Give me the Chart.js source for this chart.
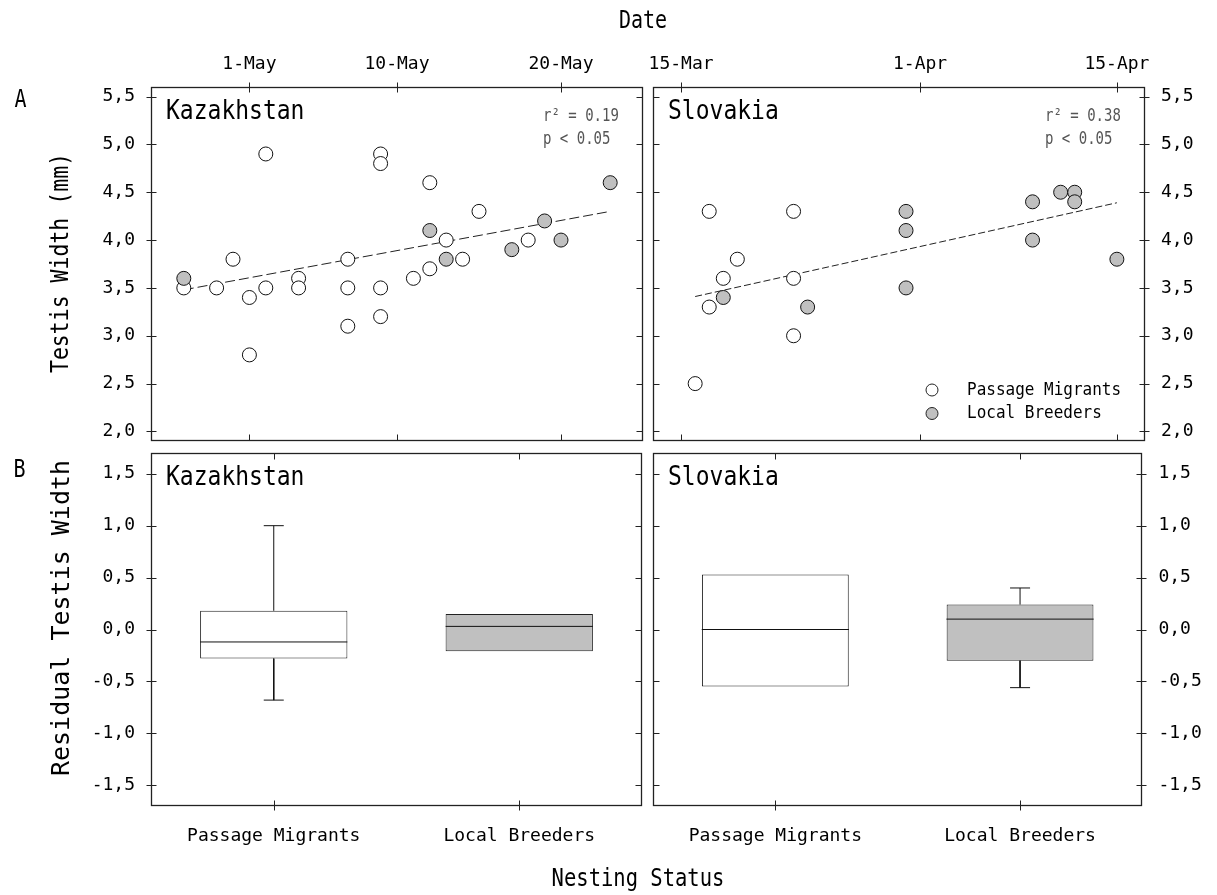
<!DOCTYPE html>
<html>
<head>
<meta charset="utf-8">
<script src="https://cdn.jsdelivr.net/npm/chart.js@4.4.1/dist/chart.umd.min.js"></script>
<style>
  html, body { margin: 0; padding: 0; background: #fff; }
  #page { position: relative; width: 1217px; height: 895px; }
  #page canvas { position: absolute; left: 0; top: 0; }
</style>
</head>
<body>
<div id="page">
  <canvas id="kzDate" width="1217" height="895"></canvas>
  <canvas id="skDate" width="1217" height="895"></canvas>
  <canvas id="kzBox" width="1217" height="895"></canvas>
  <canvas id="skBox" width="1217" height="895"></canvas>
</div>
<script>
// ---- data ----
// Kazakhstan: x = day of May (0 = 30-Apr)
var kzDateTicks = [1, 10, 20];
var kzDateLabels = ['1-May', '10-May', '20-May'];
var kzPassageDay = [-3, -1, 0, 1, 1, 2, 2, 4, 4, 7, 7, 7, 9, 9, 9, 9, 11, 12, 12, 13, 14, 15, 18];
var kzPassageWidth = [3.5, 3.5, 3.8, 3.4, 2.8, 4.9, 3.5, 3.6, 3.5, 3.8, 3.5, 3.1, 4.9, 4.8, 3.5, 3.2, 3.6, 4.6, 3.7, 4.0, 3.8, 4.3, 4.0];
var kzLocalDay = [-3, 12, 13, 17, 19, 20, 23];
var kzLocalWidth = [3.6, 4.1, 3.8, 3.9, 4.2, 4.0, 4.6];
var kzTrendDay = [-3, 23];
var kzTrendWidth = [3.48, 4.30];

// Slovakia: x = day of March (32 = 1-Apr)
var skDateTicks = [15, 32, 46];
var skDateLabels = ['15-Mar', '1-Apr', '15-Apr'];
var skPassageDay = [16, 17, 17, 18, 19, 23, 23, 23];
var skPassageWidth = [2.5, 4.3, 3.3, 3.6, 3.8, 4.3, 3.6, 3.0];
var skLocalDay = [18, 24, 31, 31, 31, 40, 40, 42, 43, 43, 46];
var skLocalWidth = [3.4, 3.3, 4.3, 4.1, 3.5, 4.4, 4.0, 4.5, 4.5, 4.4, 3.8];
var skTrendDay = [16, 46];
var skTrendWidth = [3.41, 4.39];

var widthTicks = [2.0, 2.5, 3.0, 3.5, 4.0, 4.5, 5.0, 5.5];
var residualTicks = [-1.5, -1.0, -0.5, 0.0, 0.5, 1.0, 1.5];

// box plots of residual testis width
var statusLabels = ['Passage Migrants', 'Local Breeders'];
var kzQ1 = [-0.28, -0.21];
var kzQ3 = [0.18, 0.15];
var kzMedian = [-0.12, 0.03];
var kzLow = [-0.68, null];
var kzHigh = [1.0, null];
var skQ1 = [-0.55, -0.30];
var skQ3 = [0.53, 0.24];
var skMedian = [0.0, 0.10];
var skLow = [null, -0.56];
var skHigh = [null, 0.40];

// ---- helpers ----
var FONT = "'DejaVu Sans Mono', monospace";
var INK = '#000';
var GREY = '#c0c0c0';
Chart.defaults.font.family = FONT;
Chart.defaults.color = INK;

function pts(xs, ys) {
  return xs.map(function (x, i) { return { x: x, y: ys[i] }; });
}
function comma(v) {
  return v.toFixed(1).replace('.', ',');
}
function fixTicks(vals) {
  return function (s) { s.ticks = vals.map(function (v) { return { value: v }; }); };
}

function text(ctx, str, x, y, size, opts) {
  opts = opts || {};
  ctx.save();
  ctx.translate(x, y);
  if (opts.rotate) ctx.rotate(-Math.PI / 2);
  ctx.scale(1, opts.stretch || 1.15);
  ctx.font = size + 'px ' + FONT;
  ctx.fillStyle = opts.color || INK;
  ctx.textAlign = opts.align || 'center';
  ctx.textBaseline = 'middle';
  ctx.fillText(str, 0, 0);
  ctx.restore();
}

// frame, mirrored tick marks, panel title and notes
var framePlugin = {
  id: 'frame',
  afterDatasetsDraw: function (chart, args, o) {
    var ctx = chart.ctx, a = chart.chartArea;
    var xs = chart.scales.x, ys = chart.scales.y;
    var L = Math.round(a.left) + 0.5, R = Math.round(a.right) - 0.5;
    var T = Math.round(a.top) + 0.5, B = Math.round(a.bottom) - 0.5;
    ctx.save();
    ctx.strokeStyle = '#222';
    ctx.lineWidth = 1.3;
    ctx.strokeRect(L, T, R - L, B - T);
    ctx.lineWidth = 1;
    ctx.beginPath();
    xs.ticks.forEach(function (t, i) {
      var p = Math.round(xs.getPixelForTick(i)) + 0.5;
      ctx.moveTo(p, T - o.top[0]); ctx.lineTo(p, T + o.top[1]);
      ctx.moveTo(p, B + o.bottom[0]); ctx.lineTo(p, B - o.bottom[1]);
    });
    ys.ticks.forEach(function (t, i) {
      var p = Math.round(ys.getPixelForTick(i)) + 0.5;
      ctx.moveTo(L - o.left[0], p); ctx.lineTo(L + o.left[1], p);
      ctx.moveTo(R + o.right[0], p); ctx.lineTo(R - o.right[1], p);
    });
    ctx.stroke();
    ctx.restore();

    text(ctx, o.title, a.left + 15, a.top + 25, 23, { align: 'left', stretch: 1.18 });
    (o.notes || []).forEach(function (n, i) {
      text(ctx, n, a.right - 100, a.top + 29 + i * 23, 14, { align: 'left', color: '#555', stretch: 1.25 });
    });
    if (o.legend) {
      o.legend.forEach(function (l, i) {
        var y = a.bottom - 51 + i * 23.5;
        ctx.save();
        ctx.beginPath();
        ctx.arc(a.right - 213, y, 6, 0, Math.PI * 2);
        ctx.fillStyle = l.fill;
        ctx.fill();
        ctx.strokeStyle = '#222';
        ctx.lineWidth = 1;
        ctx.stroke();
        ctx.restore();
        text(ctx, l.label, a.right - 178, y, 16, { align: 'left', stretch: 1.12 });
      });
    }
  }
};

// page level titles
var pagePlugin = {
  id: 'page',
  afterDraw: function (chart) {
    var ctx = chart.ctx;
    text(ctx, 'Date', 643, 22, 20, { stretch: 1.2 });
    text(ctx, 'A', 20.5, 101, 20, { stretch: 1.2 });
    text(ctx, 'B', 19.5, 471, 20, { stretch: 1.2 });
    text(ctx, 'Testis Width (mm)', 62, 263, 21.5, { rotate: true, stretch: 1.15 });
    text(ctx, 'Residual Testis Width', 62, 618, 25, { rotate: true, stretch: 1.0 });
    text(ctx, 'Nesting Status', 638, 880, 20.5, { stretch: 1.2 });
  }
};

var OUTER = [5, 5], INNER = [0, 6];
var tickFont = { family: FONT, size: 18 };

function baseOptions(pad, frame) {
  return {
    responsive: false,
    animation: false,
    events: [],
    layout: { padding: pad },
    plugins: { legend: { display: false }, tooltip: { enabled: false }, frame: frame }
  };
}

function yAxis(pos, min, max, vals) {
  return {
    type: 'linear', position: pos, min: min, max: max,
    afterBuildTicks: fixTicks(vals),
    afterFit: function (s) { s.width = 60; },
    grid: { display: false, drawTicks: false }, border: { display: false },
    ticks: { font: tickFont, color: INK, padding: 16, autoSkip: false,
             callback: function (v) { return comma(v); } }
  };
}

function dateAxis(min, max, vals, labels) {
  return {
    type: 'linear', position: 'top', min: min, max: max,
    afterBuildTicks: fixTicks(vals),
    afterFit: function (s) { s.height = 40; },
    grid: { display: false, drawTicks: false }, border: { display: false },
    ticks: { font: tickFont, color: INK, padding: 12, autoSkip: false, maxRotation: 0,
             callback: function (v, i) { return labels[i]; } }
  };
}

function scatterSets(pDay, pW, lDay, lW, tDay, tW, dash) {
  return [
    { type: 'scatter', data: pts(pDay, pW), pointRadius: 7, pointBackgroundColor: '#fff',
      pointBorderColor: '#111', pointBorderWidth: 1, order: 2 },
    { type: 'scatter', data: pts(lDay, lW), pointRadius: 7, pointBackgroundColor: GREY,
      pointBorderColor: '#111', pointBorderWidth: 1, order: 1 },
    { type: 'line', data: pts(tDay, tW), borderColor: '#222', borderWidth: 1, borderDash: dash,
      pointRadius: 0, fill: false, order: 5 }
  ];
}

function boxSets(q1, q3, med, low, high) {
  var whisk = [], caps = [];
  statusLabels.forEach(function (lab, i) {
    if (high[i] !== null) {
      whisk.push({ x: lab, y: q3[i] }, { x: lab, y: high[i] }, { x: lab, y: null });
      caps.push({ x: lab, y: high[i] });
    }
    if (low[i] !== null) {
      whisk.push({ x: lab, y: q1[i] }, { x: lab, y: low[i] }, { x: lab, y: null });
      caps.push({ x: lab, y: low[i] });
    }
  });
  return [
    { type: 'bar', data: q1.map(function (v, i) { return [v, q3[i]]; }),
      backgroundColor: ['#fff', GREY], borderColor: '#222', borderWidth: 1, borderSkipped: false,
      barPercentage: 0.6, categoryPercentage: 1, grouped: false, order: 5 },
    { type: 'line', data: med, showLine: false, pointStyle: 'line', pointRadius: 73.6,
      pointBorderColor: '#111', pointBorderWidth: 1, order: 1 },
    { type: 'line', data: whisk, borderColor: '#111', borderWidth: 1, pointRadius: 0,
      spanGaps: false, order: 2 },
    { type: 'line', data: caps, showLine: false, pointStyle: 'line', pointRadius: 10,
      pointBorderColor: '#111', pointBorderWidth: 1, order: 2 }
  ];
}

function statusAxis() {
  return {
    type: 'category', position: 'bottom', labels: statusLabels, offset: true,
    afterFit: function (s) { s.height = 40; },
    grid: { display: false, drawTicks: false }, border: { display: false },
    ticks: { font: tickFont, color: INK, padding: 20, autoSkip: false, maxRotation: 0 }
  };
}

// ---- A: Kazakhstan ----
var kzOpts = baseOptions({ left: 91, right: 574, top: 47, bottom: 454 },
  { title: 'Kazakhstan', top: OUTER, left: OUTER, right: INNER, bottom: INNER,
    notes: ['r\u00b2 = 0.19', 'p < 0.05'] });
kzOpts.scales = { x: dateAxis(-5, 25, kzDateTicks, kzDateLabels), y: yAxis('left', 1.9, 5.6, widthTicks) };
new Chart(document.getElementById('kzDate'), {
  type: 'scatter',
  data: { datasets: scatterSets(kzPassageDay, kzPassageWidth, kzLocalDay, kzLocalWidth, kzTrendDay, kzTrendWidth, [10, 4]) },
  options: kzOpts,
  plugins: [framePlugin, pagePlugin]
});

// ---- A: Slovakia ----
var skOpts = baseOptions({ left: 653, right: 12, top: 47, bottom: 454 },
  { title: 'Slovakia', top: OUTER, left: INNER, right: OUTER, bottom: INNER,
    notes: ['r\u00b2 = 0.38', 'p < 0.05'],
    legend: [{ label: 'Passage Migrants', fill: '#fff' }, { label: 'Local Breeders', fill: GREY }] });
skOpts.scales = { x: dateAxis(13, 48, skDateTicks, skDateLabels), y: yAxis('right', 1.9, 5.6, widthTicks) };
new Chart(document.getElementById('skDate'), {
  type: 'scatter',
  data: { datasets: scatterSets(skPassageDay, skPassageWidth, skLocalDay, skLocalWidth, skTrendDay, skTrendWidth, [7, 3]) },
  options: skOpts,
  plugins: [framePlugin]
});

// ---- B: Kazakhstan ----
var kzbOpts = baseOptions({ left: 91, right: 575, top: 453, bottom: 49 },
  { title: 'Kazakhstan', top: INNER, left: OUTER, right: INNER, bottom: OUTER });
kzbOpts.scales = { x: statusAxis(), y: yAxis('left', -1.7, 1.7, residualTicks) };
new Chart(document.getElementById('kzBox'), {
  type: 'bar',
  data: { labels: statusLabels, datasets: boxSets(kzQ1, kzQ3, kzMedian, kzLow, kzHigh) },
  options: kzbOpts,
  plugins: [framePlugin]
});

// ---- B: Slovakia ----
var skbOpts = baseOptions({ left: 653, right: 12, top: 453, bottom: 49 },
  { title: 'Slovakia', top: INNER, left: INNER, right: OUTER, bottom: OUTER });
skbOpts.scales = { x: statusAxis(), y: yAxis('right', -1.7, 1.7, residualTicks) };
new Chart(document.getElementById('skBox'), {
  type: 'bar',
  data: { labels: statusLabels, datasets: boxSets(skQ1, skQ3, skMedian, skLow, skHigh) },
  options: skbOpts,
  plugins: [framePlugin]
});
</script>
</body>
</html>
